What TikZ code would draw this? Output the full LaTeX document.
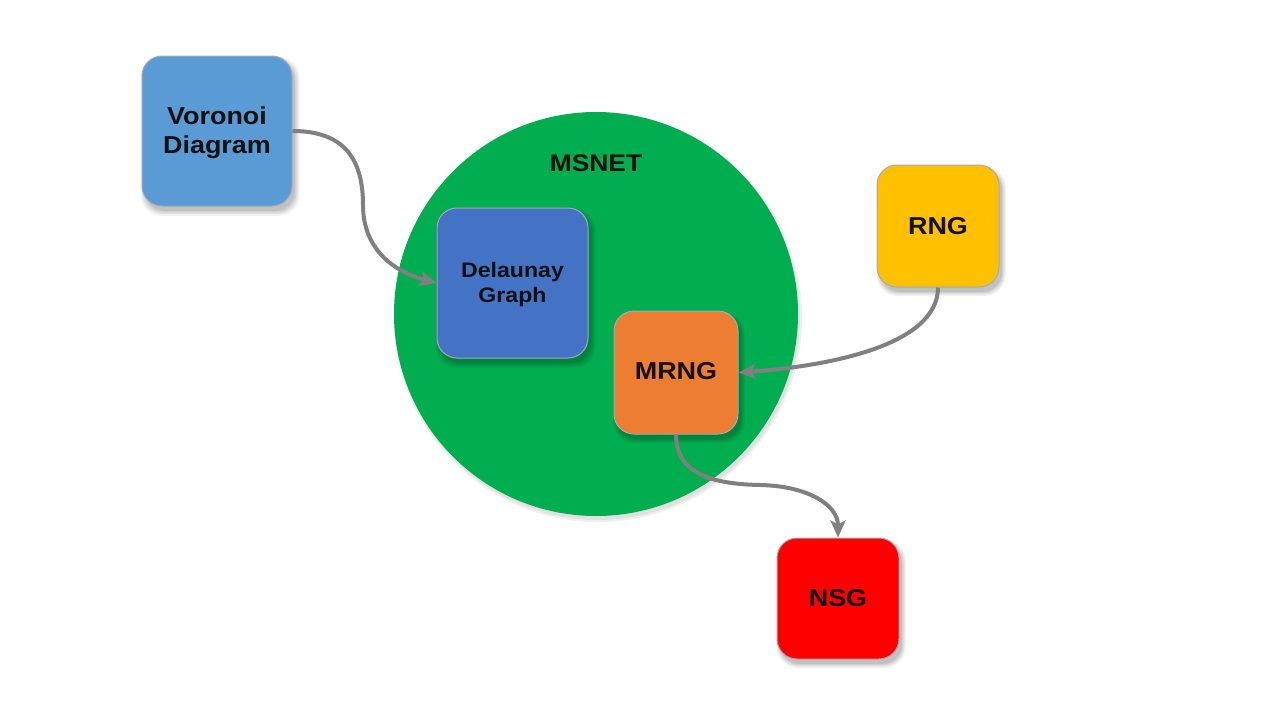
\documentclass[tikz,border=0pt]{standalone}
\usepackage{fontspec}
\setmainfont[FakeStretch=1.1]{Liberation Sans}
\usetikzlibrary{shadows,arrows.meta}
\definecolor{voro}{HTML}{5B9BD5}
\definecolor{dela}{HTML}{4472C4}
\definecolor{mrng}{HTML}{ED7D31}
\definecolor{rng}{HTML}{FFC000}
\definecolor{nsg}{HTML}{FF0000}
\definecolor{msnet}{HTML}{00AD4F}
\definecolor{conn}{HTML}{808080}
\definecolor{bord}{HTML}{A3A9BA}
\definecolor{txt}{HTML}{111111}
\begin{document}
\begin{tikzpicture}[x=1pt,y=-1pt,
  softshadow/.style={
    drop shadow={shadow xshift=3pt, shadow yshift=-5pt, opacity=0.05, fill=black, shadow scale=1.06},
    drop shadow={shadow xshift=3pt, shadow yshift=-5pt, opacity=0.06, fill=black, shadow scale=1.04},
    drop shadow={shadow xshift=3pt, shadow yshift=-5pt, opacity=0.07, fill=black, shadow scale=1.02},
    drop shadow={shadow xshift=3pt, shadow yshift=-5pt, opacity=0.08, fill=black, shadow scale=1.0}},
  box/.style={draw=bord, line width=1pt, rounded corners=20pt, inner sep=0pt,
    align=center, text=txt, softshadow},
  conn/.style={draw=conn, line width=4pt, -{Stealth[length=17pt,width=15pt,inset=4pt]}}]
\useasboundingbox (0,0) rectangle (1280,720);
\fill[white] (0,0) rectangle (1280,720);
\node[circle, fill=msnet, minimum size=404pt, inner sep=0pt,
  drop shadow={shadow xshift=2pt, shadow yshift=-4pt, opacity=0.06, fill=black, shadow scale=1.01},
  drop shadow={shadow xshift=2pt, shadow yshift=-4pt, opacity=0.06, fill=black}] (circ) at (596,314) {};
\node[font=\bfseries\fontsize{24}{28}\selectfont, text=txt] (msnet) at (596,163) {MSNET};
\node[box, fill=voro, minimum width=150pt, minimum height=150pt,
  font=\bfseries\fontsize{24.5}{29}\selectfont] (voro) at (217,131) {};
\node[align=center, text=txt, font=\bfseries\fontsize{24.5}{29}\selectfont] (vorot) at (217,132.5) {Voronoi\\Diagram};
\node[box, fill=dela, minimum width=151pt, minimum height=150pt,
  font=\bfseries\fontsize{21}{25}\selectfont] (dela) at (512.5,283) {};
\node[align=center, text=txt, font=\bfseries\fontsize{21}{25}\selectfont] (delat) at (512.5,284.5) {Delaunay\\Graph};
\node[box, fill=mrng, minimum width=124pt, minimum height=123pt,
  font=\bfseries\fontsize{24.5}{28}\selectfont] (mrng) at (676,372.5) {};
\node[text=txt, font=\bfseries\fontsize{24.5}{28}\selectfont] (mrngt) at (676,371) {MRNG};
\node[box, fill=rng, minimum width=122pt, minimum height=122pt,
  font=\bfseries\fontsize{24.5}{28}\selectfont] (rng) at (938,226) {RNG};
\node[box, fill=nsg, minimum width=122pt, minimum height=121pt,
  font=\bfseries\fontsize{24.5}{28}\selectfont] (nsg) at (838,598.5) {NSG};
\draw[conn] (voro.east) .. controls (345,131) and (363,160) .. (363,205)
  .. controls (363,250) and (395,272) .. (dela.west);
\draw[conn] (rng.south) .. controls (938,345) and (830,366) .. (mrng.east);
\draw[conn] (mrng.south) .. controls (676,470) and (705,484) .. (760,485)
  .. controls (808,486) and (838,505) .. (nsg.north);
\end{tikzpicture}
\end{document}
